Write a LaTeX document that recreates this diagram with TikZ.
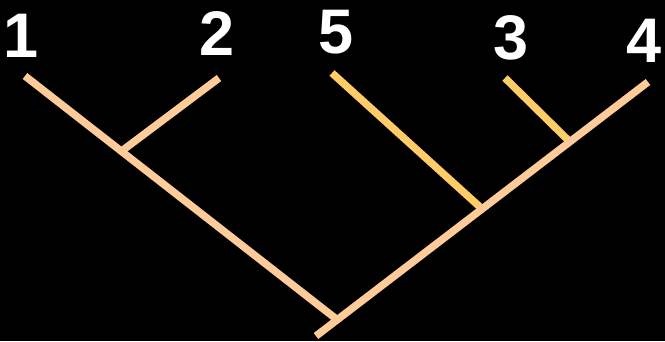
\documentclass[tikz,border=0pt]{standalone}
\usepackage{fontspec}
\setsansfont{Liberation Sans}
\usepackage{tikz}

\definecolor{peach}{HTML}{FFCC99}
\definecolor{gold}{HTML}{FFCC66}

\begin{document}
\begin{tikzpicture}[
        x = 1pt, y = -1pt,
        branch/.style = {draw = peach, line width = 7.5pt},
        twig/.style = {draw = gold, line width = 7.5pt},
        leaf/.style = {text = white, font = \sffamily\bfseries\fontsize{63}{63}\selectfont, inner sep = 0pt}
    ]
        \fill[black] (0,0) rectangle (665,341);
        \useasboundingbox (0,0) rectangle (665,341);
        % leaves and joins
        \coordinate (t1) at (25,76);
        \coordinate (t2) at (219,78);
        \coordinate (t5) at (332,73);
        \coordinate (t3) at (505,78);
        \coordinate (t4) at (648,82);
        \coordinate (j12) at (123,150);
        \coordinate (j34) at (569,141);
        \coordinate (j5) at (480,207);
        \coordinate (root) at (335,318);
        \coordinate (stem) at (316,336);
        \node[leaf] (n1) at (21,36) {1};
        \node[leaf] (n2) at (217,34) {2};
        \node[leaf] (n5) at (336,32) {5};
        \node[leaf] (n3) at (511,38) {3};
        \node[leaf] (n4) at (644,41) {4};
        \draw[twig] (t5) -- (j5);
        \draw[twig] (t3) -- (j34);
        \draw[branch] (t2) -- (j12);
        \draw[branch] (t1) -- (root);
        \draw[branch] (t4) -- (stem);
    \end{tikzpicture}
\end{document}
